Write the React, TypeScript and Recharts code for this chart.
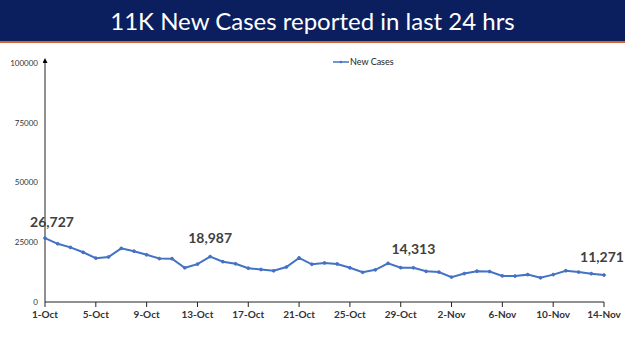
import React from "react";
import { LineChart, Line, XAxis, YAxis, LabelList, Legend } from "recharts";

const dates: string[] = [
  "1-Oct", "2-Oct", "3-Oct", "4-Oct", "5-Oct", "6-Oct", "7-Oct", "8-Oct", "9-Oct", "10-Oct",
  "11-Oct", "12-Oct", "13-Oct", "14-Oct", "15-Oct", "16-Oct", "17-Oct", "18-Oct", "19-Oct", "20-Oct",
  "21-Oct", "22-Oct", "23-Oct", "24-Oct", "25-Oct", "26-Oct", "27-Oct", "28-Oct", "29-Oct", "30-Oct",
  "31-Oct", "1-Nov", "2-Nov", "3-Nov", "4-Nov", "5-Nov", "6-Nov", "7-Nov", "8-Nov", "9-Nov",
  "10-Nov", "11-Nov", "12-Nov", "13-Nov", "14-Nov",
];

const newCases: number[] = [
  26727, 24354, 22842, 20799, 18346, 18833, 22431, 21257, 19740, 18166,
  18132, 14313, 15823, 18987, 16862, 15981, 14146, 13596, 13058, 14623,
  18454, 15786, 16326, 15906, 14306, 12428, 13451, 16156, 14348, 14313,
  12830, 12514, 10423, 11903, 12885, 12729, 10929, 10853, 11451, 10126,
  11466, 13091, 12516, 11850, 11271,
];

const labelledDates: string[] = ["1-Oct", "14-Oct", "30-Oct", "14-Nov"];
const yTicks: number[] = [0, 25000, 50000, 75000, 100000];
const title = "11K New Cases reported in last 24 hrs";
const seriesName = "New Cases";

const data = dates.map((d, i) => ({
  date: d,
  cases: newCases[i],
  label: labelledDates.includes(d) ? newCases[i].toLocaleString("en-US") : "",
}));

const FONT = "Lato, 'Open Sans', sans-serif";
const LINE = "#4472C4";

const renderLabel = (props: any) => {
  const { x, y, value, index } = props;
  if (!value) return null;
  const last = index === data.length - 1;
  const first = index === 0;
  const dx = first ? 7 : last ? -2 : 0;
  const dy = first ? -11 : last ? -13 : -14;
  return (
    <text
      x={x + dx}
      y={y + dy}
      textAnchor="middle"
      fontFamily={FONT}
      fontWeight={700}
      fontSize={14}
      fill="#404040"
    >
      {value}
    </text>
  );
};

const renderLegend = () => (
  <div style={{ display: "flex", alignItems: "center", fontFamily: FONT, fontSize: 9, color: "#222" }}>
    <svg width={16} height={6} style={{ marginRight: 1 }}>
      <line x1={0} y1={3} x2={16} y2={3} stroke={LINE} strokeWidth={1.5} />
      <circle cx={8} cy={3} r={1.3} fill={LINE} />
    </svg>
    <span>{seriesName}</span>
  </div>
);

export default function App() {
  return (
    <div style={{ position: "absolute", left: 0, top: 0, width: 625, height: 351, background: "#fff", overflow: "hidden" }}>
      <svg width={0} height={0} style={{ position: "absolute" }}>
        <defs>
          <marker id="yarrow" viewBox="0 0 10 10" refX="5" refY="10" markerWidth="5" markerHeight="7" orient="0" markerUnits="userSpaceOnUse">
            <path d="M0,10 L5,0 L10,10 Z" fill="#000" />
          </marker>
        </defs>
      </svg>
      <div
        style={{
          position: "absolute",
          left: 0,
          top: 0,
          width: 625,
          height: 41,
          background: "#0b1f5e",
          borderBottom: "2px solid #d0642e",
          color: "#fff",
          fontFamily: "Lato, 'Open Sans', sans-serif",
          fontSize: 24,
          lineHeight: "41px",
          textAlign: "center",
          whiteSpace: "nowrap",
        }}
      >
        {title}
      </div>
      <div style={{ position: "absolute", left: 0, top: 0 }}>
        <LineChart width={625} height={351} data={data} margin={{ top: 52, right: 21, bottom: 29, left: 0 }}>
          <Legend
            verticalAlign="top"
            content={renderLegend}
            wrapperStyle={{ position: "absolute", top: 56, left: 333, width: 80 }}
          />
          <XAxis
            dataKey="date"
            interval={3}
            tickSize={5}
            tickMargin={4}
            height={20}
            axisLine={{ stroke: "#222" }}
            tickLine={{ stroke: "#222" }}
            tick={{ fontFamily: FONT, fontSize: 10, fontWeight: 700, fill: "#333" }}
          />
          <YAxis
            domain={[0, 100000]}
            ticks={yTicks}
            width={45}
            tickSize={0}
            tickMargin={7}
            tickLine={false}
            axisLine={{ stroke: "#222", markerStart: "url(#yarrow)" } as any}
            tick={{ fontFamily: FONT, fontSize: 8, fill: "#333" }}
          />
          <Line
            type="linear"
            dataKey="cases"
            name={seriesName}
            stroke={LINE}
            strokeWidth={2}
            dot={{ r: 1.4, fill: LINE, stroke: LINE, strokeWidth: 1 }}
            isAnimationActive={false}
          >
            <LabelList dataKey="label" content={renderLabel} />
          </Line>
        </LineChart>
      </div>
    </div>
  );
}
